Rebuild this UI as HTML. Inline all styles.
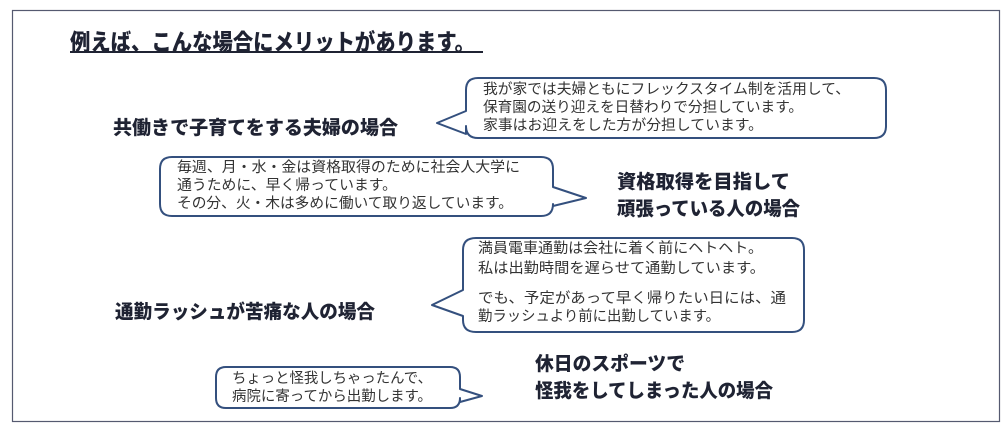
<!DOCTYPE html>
<html><head><meta charset="utf-8"><style>
html,body{margin:0;padding:0;background:#fff;width:1008px;height:430px;overflow:hidden}
svg{display:block}
.b{font-family:"Liberation Sans","Noto Sans CJK JP",sans-serif;font-weight:900;fill:#1f2333}
.t{font-family:"Liberation Sans","Noto Sans CJK JP",sans-serif;font-size:14.5px;fill:#333}
.bub{fill:#fff;stroke:#34507e;stroke-width:2;stroke-linejoin:round}
</style></head><body>
<svg width="1008" height="430" viewBox="0 0 1008 430">
<rect x="12.5" y="10.5" width="987" height="411" fill="#fff" stroke="#555a70" stroke-width="1.2"/>
<text x="70" y="50" class="b" font-size="23" textLength="405" lengthAdjust="spacingAndGlyphs">例えば、こんな場合にメリットがあります。</text>
<line x1="70" y1="52" x2="483" y2="52" stroke="#1f2333" stroke-width="2"/>

<path class="bub" d="M478,78 H874 Q886,78 886,90 V126 Q886,138 874,138 H478 Q466,138 466,126 V134 L437,123 L466,111 V90 Q466,78 478,78 Z"/>
<text class="t" x="483" y="94" textLength="367" lengthAdjust="spacingAndGlyphs">我が家では夫婦ともにフレックスタイム制を活用して、</text>
<text class="t" x="483" y="112" textLength="320" lengthAdjust="spacingAndGlyphs">保育園の送り迎えを日替わりで分担しています。</text>
<text class="t" x="483" y="130" textLength="280" lengthAdjust="spacingAndGlyphs">家事はお迎えをした方が分担しています。</text>
<text x="113" y="134" class="b" font-size="19" textLength="285" lengthAdjust="spacingAndGlyphs">共働きで子育てをする夫婦の場合</text>

<path class="bub" d="M172,157 H541 Q553,157 553,169 V187 L586,198 L553,206 V204 Q553,216 541,216 H172 Q160,216 160,204 V169 Q160,157 172,157 Z"/>
<text class="t" x="177" y="172" textLength="343" lengthAdjust="spacingAndGlyphs">毎週、月・水・金は資格取得のために社会人大学に</text>
<text class="t" x="177" y="190" textLength="220" lengthAdjust="spacingAndGlyphs">通うために、早く帰っています。</text>
<text class="t" x="177" y="208" textLength="336" lengthAdjust="spacingAndGlyphs">その分、火・木は多めに働いて取り返しています。</text>
<text x="617" y="188" class="b" font-size="19" textLength="173" lengthAdjust="spacingAndGlyphs">資格取得を目指して</text>
<text x="617" y="215" class="b" font-size="19" textLength="183" lengthAdjust="spacingAndGlyphs">頑張っている人の場合</text>

<path class="bub" d="M476,238 H792 Q804,238 804,250 V320 Q804,332 792,332 H476 Q463,332 463,320 V316 L432,305 L463,290 V250 Q463,238 476,238 Z"/>
<text class="t" x="478" y="253" textLength="285" lengthAdjust="spacingAndGlyphs">満員電車通勤は会社に着く前にヘトヘト。</text>
<text class="t" x="478" y="273" textLength="287" lengthAdjust="spacingAndGlyphs">私は出勤時間を遅らせて通勤しています。</text>
<text class="t" x="478" y="303" textLength="308" lengthAdjust="spacingAndGlyphs">でも、予定があって早く帰りたい日には、通</text>
<text class="t" x="478" y="321" textLength="242" lengthAdjust="spacingAndGlyphs">勤ラッシュより前に出勤しています。</text>
<text x="115" y="318" class="b" font-size="19" textLength="260" lengthAdjust="spacingAndGlyphs">通勤ラッシュが苦痛な人の場合</text>

<path class="bub" d="M226,367 H450 Q460,367 460,377 V389 L482,396 L460,402 V398 Q460,408 450,408 H226 Q216,408 216,398 V377 Q216,367 226,367 Z"/>
<text class="t" x="232" y="383" textLength="200" lengthAdjust="spacingAndGlyphs">ちょっと怪我しちゃったんで、</text>
<text class="t" x="232" y="401" textLength="200" lengthAdjust="spacingAndGlyphs">病院に寄ってから出勤します。</text>
<text x="535" y="370" class="b" font-size="19" textLength="150" lengthAdjust="spacingAndGlyphs">休日のスポーツで</text>
<text x="535" y="397" class="b" font-size="19" textLength="238" lengthAdjust="spacingAndGlyphs">怪我をしてしまった人の場合</text>
</svg>
</body></html>
